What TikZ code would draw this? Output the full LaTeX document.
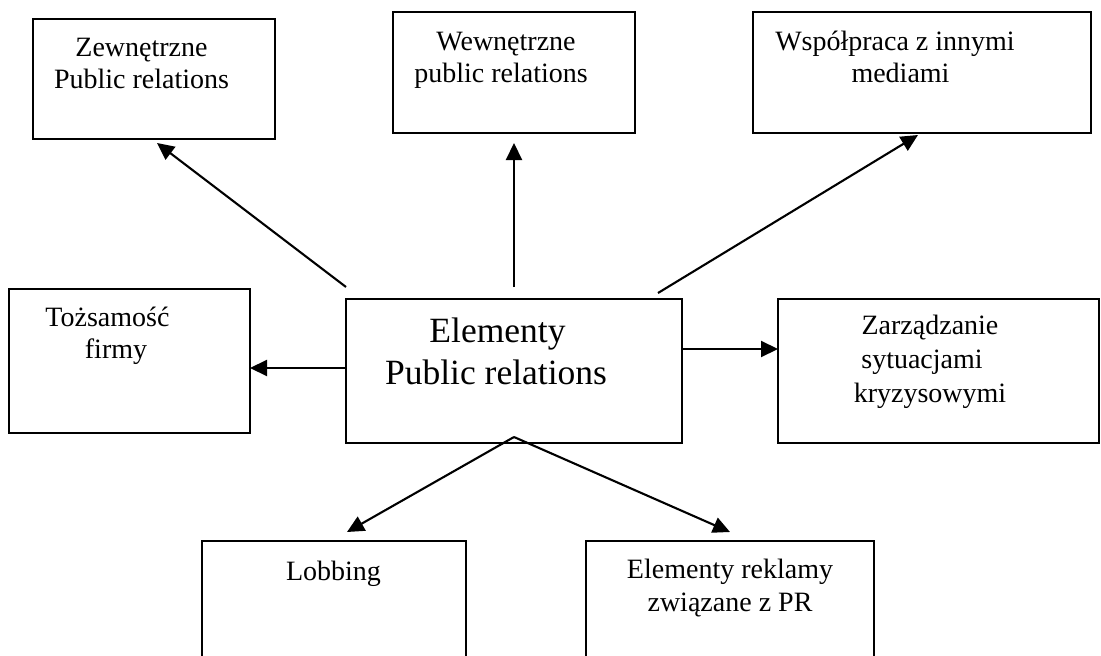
\documentclass[tikz,border=0pt]{standalone}
\usepackage{fontspec}
\setmainfont{Liberation Serif}
\usetikzlibrary{arrows.meta}
\begin{document}
\begin{tikzpicture}[x=1pt,y=-1pt]
\tikzset{
  box/.style={draw, line width=2.1pt, inner sep=0pt},
  lbl/.style={anchor=base, inner sep=0pt, font=\fontsize{28}{33}\selectfont},
  big/.style={anchor=base, inner sep=0pt, font=\fontsize{35.5}{42}\selectfont},
  arr/.style={line width=2.1pt, -{Triangle[length=17pt,width=16pt]}}
}
\useasboundingbox (0,0) rectangle (1101,656);
\clip (0,0) rectangle (1101,656);
% boxes
\node[box, minimum width=242pt, minimum height=120pt] (zew) at (154,79) {};
\node[box, minimum width=242pt, minimum height=121pt] (wew) at (514,72.5) {};
\node[box, minimum width=338pt, minimum height=121pt] (wsp) at (922,72.5) {};
\node[box, minimum width=241pt, minimum height=144pt] (toz) at (129.5,361) {};
\node[box, minimum width=336pt, minimum height=144pt] (cen) at (514,371) {};
\node[box, minimum width=321pt, minimum height=144pt] (zar) at (938.5,371) {};
\node[box, minimum width=264pt, minimum height=159pt] (lob) at (334,620.5) {};
\node[box, minimum width=288pt, minimum height=159pt] (rek) at (730,620.5) {};
% texts
\node[lbl] (zewA) at (141.5,56) {Zewnętrzne};
\node[lbl] (zewB) at (141.5,88) {Public relations};
\node[lbl] (wewA) at (506,50) {Wewnętrzne};
\node[lbl] (wewB) at (501,82) {public relations};
\node[lbl] (wspA) at (895,50) {Współpraca z innymi};
\node[lbl] (wspB) at (900.5,82) {mediami};
\node[lbl] (tozA) at (107.5,326) {Tożsamość};
\node[lbl] (tozB) at (116,358) {firmy};
\node[big] (cenA) at (497.5,342) {Elementy};
\node[big] (cenB) at (496,384) {Public relations};
\node[lbl] (zarA) at (930,334) {Zarządzanie};
\node[lbl] (zarB) at (922,368) {sytuacjami};
\node[lbl] (zarC) at (930,402) {kryzysowymi};
\node[lbl] (lobA) at (333.5,580) {Lobbing};
\node[lbl] (rekA) at (730,578) {Elementy reklamy};
\node[lbl] (rekB) at (730,611) {związane z PR};
% connector ends
\coordinate (s1) at (346,287); \coordinate (e1) at (157,143);
\coordinate (s2) at (514,287); \coordinate (e2) at (514,143);
\coordinate (s3) at (658,293); \coordinate (e3) at (918,135);
\coordinate (s4) at (346,368); \coordinate (e4) at (250,368);
\coordinate (s5) at (682,349); \coordinate (e5) at (778,349);
\coordinate (apex) at (514,437);
\coordinate (e6) at (347,532); \coordinate (e7) at (730,532);
% connectors
\draw[arr] (s1) -- (e1);
\draw[arr] (s2) -- (e2);
\draw[arr] (s3) -- (e3);
\draw[arr] (s4) -- (e4);
\draw[arr] (s5) -- (e5);
\draw[arr] (apex) -- (e6);
\draw[arr] (apex) -- (e7);
\end{tikzpicture}
\end{document}
